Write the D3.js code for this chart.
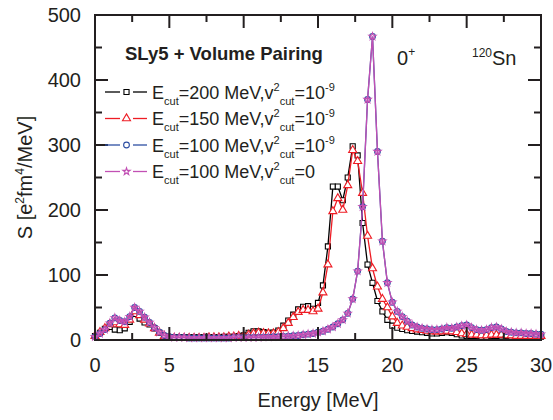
<!DOCTYPE html>
<html>
<head>
<meta charset="utf-8">
<script src="https://cdn.jsdelivr.net/npm/d3@7"></script>
<style>
  body { margin: 0; background: #fff; }
  text { font-family: "Liberation Sans", Arial, sans-serif; fill: #231f20; }
</style>
</head>
<body>
<div id="chart"></div>
<script>
// energies on a 1/3 MeV grid, 0..30
const energy = d3.range(91).map(k => k / 3);

// E_cut = 200 MeV, v2_cut = 1e-9
const s200 = [6, 11, 17, 20, 16, 15, 18, 28, 40, 33, 27, 24, 18, 11, 6, 4,
  4, 4, 4, 4, 4, 4, 4, 4, 4, 4, 5, 5, 5, 6, 7,
  11, 13.5, 13.5, 12, 11, 11.5, 14.5, 22, 30, 39, 47, 51, 52, 48, 57, 84, 144,
  236, 236, 215, 250, 298, 284, 180, 116, 88, 60, 44, 31, 22,
  19, 17, 15, 14, 13, 12, 11, 10, 10, 11, 12, 11, 9, 7, 6,
  6, 6, 5, 5, 6, 6, 7, 6, 5, 5, 5, 5, 5, 5, 5];

// E_cut = 150 MeV, v2_cut = 1e-9
const s150 = [6, 12, 18, 24, 27, 24, 23, 31, 44, 38, 31, 25, 18, 11, 6, 4,
  3, 3, 3, 3, 3, 3, 3, 4, 4, 4, 4, 5, 5, 6, 6,
  8, 10, 11, 10.5, 10, 10, 12, 18, 26, 35, 43, 46, 46, 44, 48, 73, 116,
  198, 218, 200, 238, 292, 275, 226, 160, 110, 82, 63, 50, 36,
  26, 22, 20, 18, 16, 15, 14, 13, 13, 13, 14, 13, 12, 10, 9,
  8, 8, 7, 7, 8, 8, 8, 7, 7, 6, 6, 6, 6, 6, 6];

// E_cut = 100 MeV, v2_cut = 1e-9
const s100 = [5, 10, 16, 26, 34, 30, 28, 36, 50, 44, 35, 27, 19, 12, 7, 5,
  4, 4, 4, 3, 3, 3, 3, 3, 3, 3, 3, 3, 4, 4, 4,
  4, 4, 4, 4.5, 4.5, 5, 5, 5.5, 6, 6.5, 7, 8, 9, 10, 12, 13.5, 16.5,
  20, 25, 31, 41, 63, 106, 205, 370, 467, 290, 152, 88, 58,
  44, 36, 29, 23, 20, 18, 17, 16, 16, 17, 19, 18, 20, 22, 23,
  19, 16, 15, 16, 19, 20, 17, 13, 12, 11, 11, 10, 10, 9, 9];

// E_cut = 100 MeV, v2_cut = 0
const s100z = [5, 10, 16, 26, 34, 30, 28, 36, 50, 44, 35, 27, 19, 12, 7, 5,
  4, 4, 4, 3, 3, 3, 3, 3, 3, 3, 3, 3, 4, 4, 4,
  4, 4, 4, 4.5, 4.5, 5, 5, 5.5, 6, 6.5, 7, 8, 9, 10, 12, 13.5, 16.5,
  20, 25, 31, 41, 63, 106, 205, 370, 467, 290, 152, 88, 58,
  44, 36, 29, 23, 20, 18, 17, 16, 16, 17, 19, 18, 20, 22, 23,
  19, 16, 15, 16, 19, 20, 17, 13, 12, 11, 11, 10, 10, 9, 9];

const xTicks = [0, 5, 10, 15, 20, 25, 30];
const yTicks = [0, 100, 200, 300, 400, 500];

const width = 553, height = 420;
const pLeft = 95, pRight = 541, pTop = 15, pBottom = 340;

const svg = d3.select("#chart").append("svg")
  .attr("width", width)
  .attr("height", height);

const x = d3.scaleLinear().domain([0, 30]).range([pLeft, pRight]);
const y = d3.scaleLinear().domain([0, 500]).range([pBottom, pTop]);

const series = [
  { vals: s200, color: "#000000", marker: "square", cut: "200", v: "10", exp: "-9" },
  { vals: s150, color: "#ee1c24", marker: "triangle", cut: "150", v: "10", exp: "-9" },
  { vals: s100, color: "#2e4fa3", marker: "circle", cut: "100", v: "10", exp: "-9" },
  { vals: s100z, color: "#c250b4", marker: "star", cut: "100", v: "0", exp: null }
];

const symbols = {
  square: d3.symbol().type(d3.symbolSquare).size(26),
  triangle: d3.symbol().type(d3.symbolTriangle).size(28),
  circle: d3.symbol().type(d3.symbolCircle).size(26),
  star: d3.symbol().type(d3.symbolStar).size(16)
};

function drawMarker(g, kind, color, px, py) {
  const p = g.append("path")
    .attr("d", symbols[kind]())
    .attr("transform", "translate(" + px + "," + py + ")")
    .attr("stroke", color)
    .attr("stroke-width", 1.1);
  if (kind === "square" || kind === "triangle") p.attr("fill", "#fff");
  else p.attr("fill", "none");
}

const line = d3.line().x((d, i) => x(energy[i])).y(d => y(d));

const plot = svg.append("g");
series.forEach(s => {
  plot.append("path")
    .datum(s.vals)
    .attr("fill", "none")
    .attr("stroke", s.color)
    .attr("stroke-width", 1.3)
    .attr("d", line);
  const mg = plot.append("g");
  s.vals.forEach((v, i) => drawMarker(mg, s.marker, s.color, x(energy[i]), y(v)));
});

// frame with inward ticks on all sides
const axisG = svg.append("g");
const xMinor = d3.range(0, 30.01, 2.5);
const yMinor = d3.range(0, 500.1, 50);
xMinor.forEach(t => {
  const len = t % 5 === 0 ? 13 : 7;
  axisG.append("line").attr("x1", x(t)).attr("x2", x(t)).attr("y1", pBottom).attr("y2", pBottom - len);
  axisG.append("line").attr("x1", x(t)).attr("x2", x(t)).attr("y1", pTop).attr("y2", pTop + len);
});
yMinor.forEach(t => {
  const len = t % 100 === 0 ? 13 : 7;
  axisG.append("line").attr("x1", pLeft).attr("x2", pLeft + len).attr("y1", y(t)).attr("y2", y(t));
  axisG.append("line").attr("x1", pRight).attr("x2", pRight - len).attr("y1", y(t)).attr("y2", y(t));
});
axisG.append("rect")
  .attr("x", pLeft).attr("y", pTop)
  .attr("width", pRight - pLeft).attr("height", pBottom - pTop)
  .attr("fill", "none");
axisG.selectAll("line, rect").attr("stroke", "#231f20").attr("stroke-width", 2);

// tick labels
svg.append("g").selectAll("text")
  .data(xTicks).join("text")
  .attr("x", d => x(d)).attr("y", 372)
  .attr("text-anchor", "middle")
  .style("font-size", "20px")
  .text(d => d);

svg.append("g").selectAll("text")
  .data(yTicks).join("text")
  .attr("x", 81).attr("y", d => y(d) + 7)
  .attr("text-anchor", "end")
  .style("font-size", "20px")
  .text(d => d);

// axis titles
svg.append("text")
  .attr("x", (pLeft + pRight) / 2).attr("y", 407)
  .attr("text-anchor", "middle")
  .style("font-size", "20px")
  .text("Energy [MeV]");

const yt = svg.append("text")
  .attr("transform", "translate(32," + ((pTop + pBottom) / 2) + ") rotate(-90)")
  .attr("text-anchor", "middle")
  .style("font-size", "20px");
yt.append("tspan").text("S [e");
yt.append("tspan").attr("dy", -8).style("font-size", "12px").text("2");
yt.append("tspan").attr("dy", 8).text("fm");
yt.append("tspan").attr("dy", -8).style("font-size", "12px").text("4");
yt.append("tspan").attr("dy", 8).text("/MeV]");

// annotations
svg.append("text")
  .attr("x", 125).attr("y", 60)
  .style("font-size", "18.5px").style("font-weight", "bold")
  .text("SLy5 + Volume Pairing");

const t0 = svg.append("text").attr("x", 397).attr("y", 65).style("font-size", "20px");
t0.append("tspan").text("0");
t0.append("tspan").attr("dy", -9).style("font-size", "12px").text("+");

const tsn = svg.append("text").attr("x", 472).attr("y", 65).style("font-size", "20px");
tsn.append("tspan").attr("dy", -8).style("font-size", "12px").text("120");
tsn.append("tspan").attr("dy", 8).text("Sn");

// legend
const legY = [92, 118.5, 145, 171.5];
series.forEach((s, i) => {
  const g = svg.append("g");
  const ly = legY[i];
  g.append("line").attr("x1", 105).attr("x2", 120).attr("y1", ly).attr("y2", ly)
    .attr("stroke", s.color).attr("stroke-width", 1.3);
  g.append("line").attr("x1", 133).attr("x2", 147).attr("y1", ly).attr("y2", ly)
    .attr("stroke", s.color).attr("stroke-width", 1.3);
  drawMarker(g, s.marker, s.color, 126.5, ly);
  const t = g.append("text").attr("x", 152).attr("y", ly + 6.5).style("font-size", "18px");
  t.append("tspan").text("E");
  t.append("tspan").attr("dy", 6).style("font-size", "11px").text("cut");
  t.append("tspan").attr("dy", -6).text("=" + s.cut + " MeV,v");
  t.append("tspan").attr("dy", -8).style("font-size", "11px").text("2");
  t.append("tspan").attr("dy", 14).style("font-size", "11px").text("cut");
  t.append("tspan").attr("dy", -6).text("=" + s.v);
  if (s.exp) t.append("tspan").attr("dy", -8).style("font-size", "11px").text(s.exp);
});
</script>
</body>
</html>
